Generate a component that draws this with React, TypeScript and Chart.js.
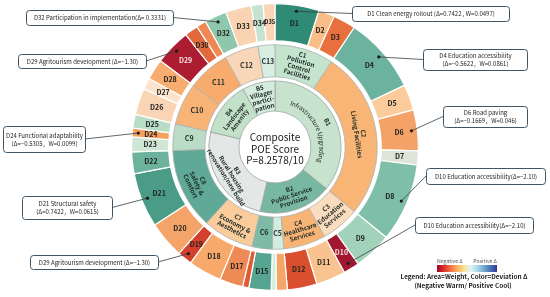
import React, { useEffect, useRef } from "react";
import { Chart, registerables } from "chart.js";
Chart.register(...registerables);

// ---- DATA ----
const dLabels = ["D1","D2","D3","D4","D5","D6","D7","D8","D9","D10","D11","D12","","","D15","","D17","D18","D19","D20","D21","D22","D23","D24","D25","D26","D27","D28","D29","D30","","D32","D33","D34","D35"];
const dWeights = [0.0497,0.018,0.0255,0.0861,0.029,0.046,0.016,0.0884,0.043,0.018,0.0333,0.0333,0.0125,0.0056,0.025,0.007,0.0264,0.0375,0.0167,0.0417,0.0615,0.0245,0.0167,0.0099,0.0153,0.03,0.0128,0.0236,0.0403,0.0153,0.0111,0.025,0.0289,0.0133,0.0133];
const dColors = ["#2f8a76","#f9bd87","#e8703f","#6bb39e","#fbcb9b","#f4a267","#dfe5d6","#7fbea9","#a2d2b9","#a0172f","#f9c391","#d8502e","#f4a669","#d5eddf","#55a591","#e25a35","#ee8a55","#f6a96b","#d5402c","#f4a469","#4a9c87","#6cb29d","#d0e7d6","#f5a05f","#b9dcc6","#f9d4b5","#fde3cb","#f7ac70","#ad1d31","#e2693c","#ef8853","#8ec7ab","#fad3b3","#c5e3cf","#fbd6b6"];

const cLabels = ["C1\nPollution\nControl\nFacilities","C2\nLiving Facilities","C3\nEducation\nServices","C4\nHealthcare\nServices","C5","C6","C7\nEconomy &\nAesthetics","C8\nSafety &\nComfort","C9","C10","C11","C12","C13"];
const cChildCounts = [3,5,2,2,2,2,3,3,3,3,3,2,2];
const cColors = ["#c5e4cd","#f9b575","#fbdcbe","#f8b475","#d3ece0","#7dbba6","#fbcc9b","#5fa996","#badcc6","#f8b477","#f7ab6d","#f9d6b7","#d8eee3"];

const bLabels = ["B1\nInfrastructure Upgrading","B2\nPublic Service\nProvision","B3\nRural housing\nrenovation/new build","B4\nLandscape\nAmenity","B5\nVillager\npartici-\npation"];
const bChildCounts = [2,4,3,2,2];
const bColors = ["#c7e3cd","#78b8a2","#e3e7e5","#c3e1c8","#d5ebdd"];
const bCurved = [true,false,false,false,false];

const centerLines = ["Composite","POE Score","P=8.2578/10"];

const callouts = [
  { target: 31, lines: ["D32 Participation in implementation(Δ= 0.3331)"], box: [26,10,147,15] },
  { target: 28, lines: ["D29 Agritourism development (Δ=−1.30)"], box: [18,54,128,14] },
  { target: 23, lines: ["D24 Functional adaptability","(Δ=−0.5305，W=0.0099)"], box: [3,126,82,26] },
  { target: 20, lines: ["D21 Structural safety","(Δ=0.7422，W=0.0615)"], box: [22,196,90,23] },
  { target: 18, lines: ["D29 Agritourism development (Δ=−1.30)"], box: [30,255,128,14] },
  { target: 0, lines: ["D1 Clean energy rollout (Δ=0.7422 , W=0.0497)"], box: [352,6,157,15] },
  { target: 3, lines: ["D4 Education accessibility","(Δ=−0.5622，W=0.0861)"], box: [423,49,104,21] },
  { target: 5, lines: ["D6 Road paving","(Δ=−0.1669，W=0.046)"], box: [443,106,84,21] },
  { target: 7, lines: ["D10 Education accessibility(Δ=−2.10)"], box: [426,168,119,16] },
  { target: 9, lines: ["D10 Education accessibility(Δ=−2.10)"], box: [415,217,118,16] },
];

const legendStops = ["#a50026","#d73027","#f46d43","#fdae61","#fee090","#e0f3f8","#abd9e9","#74add1","#4575b4","#313695"];
const legendTitle = ["Legend: Area=Weight, Color=Deviation Δ","(Negative Warm/ Positive Cool)"];
const legendEnds = ["Negative Δ","Positive Δ"];

const FONT = '"Noto Sans CJK SC", "Noto Sans", sans-serif';

function groupSums(values: number[], counts: number[]) {
  const out: number[] = [];
  let k = 0;
  counts.forEach((n) => {
    let s = 0;
    for (let j = 0; j < n; j++) s += values[k + j];
    out.push(s);
    k += n;
  });
  return out;
}

function lum(hex: string) {
  const r = parseInt(hex.slice(1, 3), 16), g = parseInt(hex.slice(3, 5), 16), b = parseInt(hex.slice(5, 7), 16);
  return 0.299 * r + 0.587 * g + 0.114 * b;
}

function tangentRot(a: number) {
  let r = a + Math.PI / 2;
  while (r > Math.PI) r -= 2 * Math.PI;
  while (r <= -Math.PI) r += 2 * Math.PI;
  if (r > Math.PI / 2) r -= Math.PI;
  else if (r < -Math.PI / 2) r += Math.PI;
  return r;
}

function drawLines(ctx: CanvasRenderingContext2D, lines: string[], x: number, y: number, rot: number, lh: number) {
  ctx.save();
  ctx.translate(x, y);
  ctx.rotate(rot);
  const n = lines.length;
  lines.forEach((l, i) => ctx.fillText(l, 0, (i - (n - 1) / 2) * lh));
  ctx.restore();
}

function curvedText(ctx: CanvasRenderingContext2D, text: string, cx: number, cy: number, r: number, midAng: number) {
  const chars = [...text];
  const widths = chars.map((ch) => ctx.measureText(ch).width);
  const total = widths.reduce((s, w) => s + w, 0);
  let ang = midAng - total / r / 2;
  chars.forEach((ch, i) => {
    const a = ang + widths[i] / 2 / r;
    ctx.save();
    ctx.translate(cx + Math.cos(a) * r, cy + Math.sin(a) * r);
    ctx.rotate(a + Math.PI / 2);
    ctx.fillText(ch, 0, 0);
    ctx.restore();
    ang += widths[i] / r;
  });
}

const labelPlugin = {
  id: "sunburstLabels",
  afterDraw(chart: any) {
    const ctx: CanvasRenderingContext2D = chart.ctx;
    const dArcs = chart.getDatasetMeta(0).data;
    const cArcs = chart.getDatasetMeta(2).data;
    const bArcs = chart.getDatasetMeta(4).data;
    const cx = dArcs[0].x, cy = dArcs[0].y;
    const mid = (a: any) => (a.startAngle + a.endAngle) / 2;
    ctx.save();
    ctx.textAlign = "center";
    ctx.textBaseline = "middle";

    // D labels
    dArcs.forEach((arc: any, i: number) => {
      const text = dLabels[i];
      if (!text) return;
      const a = mid(arc);
      const r = (arc.innerRadius + arc.outerRadius) / 2;
      const arcLen = (arc.endAngle - arc.startAngle) * r;
      const thick = arc.outerRadius - arc.innerRadius;
      const avail = arcLen * Math.abs(Math.sin(a)) + thick * Math.abs(Math.cos(a));
      let size = 7;
      ctx.font = `bold ${size}px ${FONT}`;
      const w = ctx.measureText(text).width;
      if (w + 1 > avail) size = Math.max(4.5, (size * (avail - 1)) / w);
      ctx.font = `bold ${size}px ${FONT}`;
      ctx.fillStyle = lum(dColors[i]) < 90 ? "#f6e1e1" : "#222";
      ctx.fillText(text, cx + Math.cos(a) * r, cy + Math.sin(a) * r);
    });

    // C labels
    cArcs.forEach((arc: any, i: number) => {
      const lines = cLabels[i].split("\n");
      const a = mid(arc);
      const r = (arc.innerRadius + arc.outerRadius) / 2;
      ctx.fillStyle = "#1e2b28";
      if (lines.length > 1) {
        ctx.font = `bold 6.3px ${FONT}`;
        drawLines(ctx, lines, cx + Math.cos(a) * r, cy + Math.sin(a) * r, tangentRot(a), 6.8);
      } else {
        ctx.font = `bold 7px ${FONT}`;
        drawLines(ctx, lines, cx + Math.cos(a) * r, cy + Math.sin(a) * r, 0, 7);
      }
    });

    // B labels
    bArcs.forEach((arc: any, i: number) => {
      const lines = bLabels[i].split("\n");
      const a = mid(arc);
      ctx.fillStyle = "#1e2b28";
      ctx.font = `bold 6.2px ${FONT}`;
      if (bCurved[i]) {
        const rOut = arc.outerRadius - 8;
        drawLines(ctx, [lines[0]], cx + Math.cos(a) * rOut, cy + Math.sin(a) * rOut, tangentRot(a), 7);
        ctx.font = `6.4px ${FONT}`;
        curvedText(ctx, lines[1], cx, cy, arc.innerRadius + 11, a);
      } else {
        const r = (arc.innerRadius + arc.outerRadius) / 2;
        drawLines(ctx, lines, cx + Math.cos(a) * r, cy + Math.sin(a) * r, tangentRot(a), 6.6);
      }
    });

    // center
    ctx.fillStyle = "#1a1a1a";
    ctx.font = `10px ${FONT}`;
    drawLines(ctx, centerLines, cx, cy + 2, 0, 11.5);

    // callouts
    callouts.forEach((co) => {
      const arc = dArcs[co.target];
      const a = mid(arc);
      const r = arc.outerRadius - 6;
      const px = cx + Math.cos(a) * r, py = cy + Math.sin(a) * r;
      const [bx, by, bw, bh] = co.box;
      const leftSide = bx + bw / 2 < cx;
      const ax = leftSide ? bx + bw : bx;
      const ay = by + bh / 2;
      ctx.strokeStyle = "#3a3f44";
      ctx.lineWidth = 0.8;
      ctx.beginPath();
      ctx.moveTo(ax, ay);
      ctx.lineTo(px, py);
      ctx.stroke();
      ctx.fillStyle = "#ffffff";
      ctx.strokeStyle = "#3e5566";
      ctx.lineWidth = 1;
      ctx.beginPath();
      (ctx as any).roundRect(bx + 0.5, by + 0.5, bw, bh, 3);
      ctx.fill();
      ctx.stroke();
      ctx.fillStyle = "#1f1f1f";
      ctx.font = `6px ${FONT}`;
      drawLines(ctx, co.lines, bx + bw / 2 + 0.5, by + bh / 2 + 0.5, 0, 8);
      ctx.fillStyle = "#1a1a1a";
      ctx.beginPath();
      ctx.arc(px, py, 1.6, 0, Math.PI * 2);
      ctx.fill();
    });

    // legend
    const gx = 437, gy = 265, gw = 60, gh = 7;
    const grad = ctx.createLinearGradient(gx, 0, gx + gw, 0);
    legendStops.forEach((c, i) => grad.addColorStop(i / (legendStops.length - 1), c));
    ctx.fillStyle = grad;
    ctx.fillRect(gx, gy, gw, gh);
    ctx.font = `5.2px ${FONT}`;
    ctx.fillStyle = "#555";
    ctx.textAlign = "left";
    ctx.fillText(legendEnds[0], gx, gy - 4);
    ctx.textAlign = "right";
    ctx.fillText(legendEnds[1], gx + gw, gy - 4);
    ctx.textAlign = "center";
    ctx.fillStyle = "#222";
    ctx.font = `bold 6.4px ${FONT}`;
    ctx.fillText(legendTitle[0], 464, 277);
    ctx.fillText(legendTitle[1], 463, 285.5);
    ctx.restore();
  },
};

export default function App() {
  const ref = useRef<HTMLCanvasElement | null>(null);
  useEffect(() => {
    if (!ref.current) return;
    const cValues = groupSums(dWeights, cChildCounts);
    const bValues = groupSums(cValues, bChildCounts);
    const spacer = (w: number) => ({
      data: [1],
      backgroundColor: ["rgba(0,0,0,0)"],
      borderWidth: 0,
      weight: w,
    });
    const chart = new Chart(ref.current, {
      type: "doughnut",
      data: {
        labels: dLabels,
        datasets: [
          { data: dWeights, backgroundColor: dColors, borderColor: "#ffffff", borderWidth: 1.2, weight: 37 } as any,
          spacer(4),
          { data: cValues, backgroundColor: cColors, borderColor: "#aab3af", borderWidth: 0.8, weight: 32 } as any,
          spacer(4),
          { data: bValues, backgroundColor: bColors, borderColor: "#9aa39f", borderWidth: 0.8, weight: 30 } as any,
        ],
      },
      options: {
        responsive: false,
        maintainAspectRatio: false,
        animation: false,
        events: [],
        cutout: 36,
        layout: { padding: { top: 3, bottom: 6, left: 0, right: 0 } },
        datasets: { doughnut: { hoverOffset: 0, offset: 0, hoverBorderWidth: 0 } } as any,
        plugins: { legend: { display: false }, tooltip: { enabled: false }, title: { display: false } },
      },
      plugins: [labelPlugin],
    });
    return () => chart.destroy();
  }, []);
  return (
    <div style={{ position: "fixed", left: 0, top: 0, width: 550, height: 297, background: "#fff" }}>
      <canvas ref={ref} width={550} height={297} style={{ width: 550, height: 297, display: "block" }} />
    </div>
  );
}
